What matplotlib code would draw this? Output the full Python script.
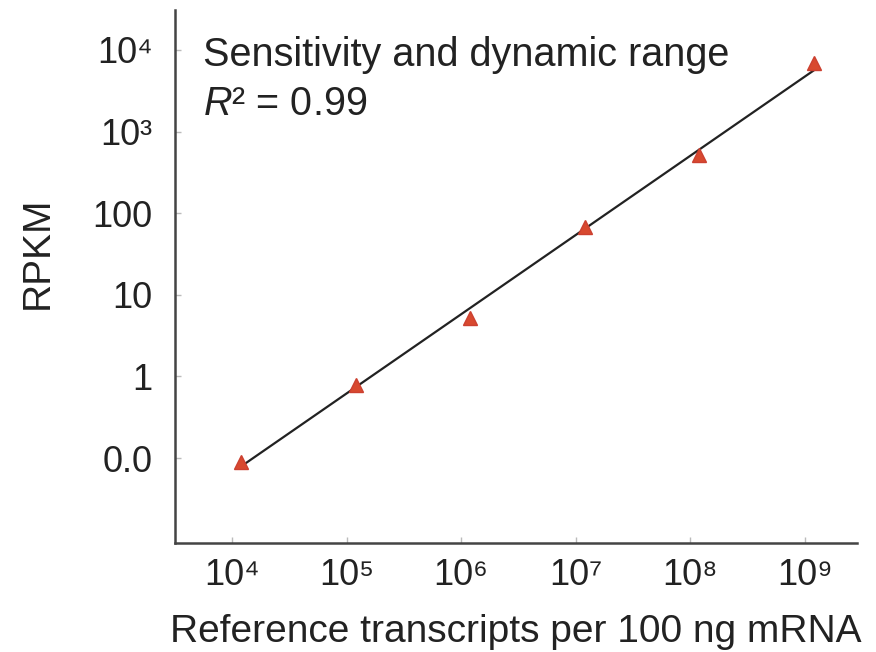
import numpy as np
import matplotlib
matplotlib.use("Agg")
import matplotlib.pyplot as plt

plt.rcParams['font.family'] = ['Liberation Sans', 'DejaVu Sans']
plt.rcParams['mathtext.fontset'] = 'custom'
plt.rcParams['mathtext.rm'] = 'Liberation Sans'
plt.rcParams['mathtext.it'] = 'Liberation Sans:italic'

# data
ref_transcripts = [1.2e4, 1.2e5, 1.2e6, 1.2e7, 1.2e8, 1.2e9]
rpkm = [0.09, 0.79, 5.2, 68, 515, 6900]
xticks = [1e4, 1e5, 1e6, 1e7, 1e8, 1e9]
xticklabels = ['10⁴', '10⁵', '10⁶', '10⁷', '10⁸', '10⁹']
yticks = [0.1, 1, 10, 100, 1e3, 1e4]
yticklabels = ['0.0', '1', '10', '100', '10³', '10⁴']

fig = plt.figure(figsize=(8.76, 6.52), dpi=100)
ax = fig.add_axes([175/876, 1-543/652, (857-175)/876, (543-10)/652])

lx = np.log10(ref_transcripts)
ly = np.log10(rpkm)
slope, icpt = np.polyfit(lx, ly, 1)
fx = np.array([lx[0], lx[-1]])
ax.plot(10**fx, 10**(slope*fx + icpt), color='#222222', lw=1.6, zorder=2)
ax.plot(ref_transcripts, rpkm, linestyle='none', marker='^', ms=10,
        color='#d8492f', mec='#cc4030', zorder=3)

ax.set_xscale('log')
ax.set_yscale('log')
ax.set_xlim(10**3.503, 10**9.454)
ax.set_ylim(10**-2.04, 10**4.49)
ax.minorticks_off()
ax.set_xticks(xticks)
ax.set_xticklabels(xticklabels)
ax.set_yticks(yticks)
ax.set_yticklabels(yticklabels)

for s in ['top', 'right']:
    ax.spines[s].set_visible(False)
for s in ['left', 'bottom']:
    ax.spines[s].set_color('#444444')
    ax.spines[s].set_linewidth(1.8)

ax.tick_params(axis='both', direction='in', length=4, width=1, color='#bbbbbb',
               labelsize=26, labelcolor='#222222')
ax.tick_params(axis='y', pad=16)
ax.tick_params(axis='x', pad=11)

ax.set_xlabel('Reference transcripts per 100 ng mRNA', fontsize=28, color='#222222', labelpad=15)
ax.set_ylabel('RPKM', fontsize=28, color='#222222')
ax.yaxis.set_label_coords(-0.175, 0.544)

ax.text(0.041, 0.8955, 'Sensitivity and dynamic range', transform=ax.transAxes,
        fontsize=28.5, color='#222222', va='baseline', ha='left')
ax.text(0.041, 0.803, '$R$² = 0.99', transform=ax.transAxes,
        fontsize=28.5, color='#222222', va='baseline', ha='left')

fig.savefig('out.png', dpi=100)
